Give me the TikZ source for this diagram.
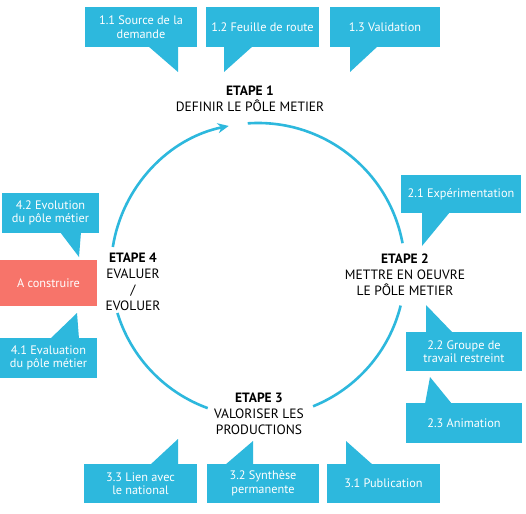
\documentclass[tikz,border=0pt]{standalone}
\usepackage{fontspec}
\setmainfont{PT Sans}
\usetikzlibrary{arrows.meta}
\definecolor{cblue}{HTML}{2DB8DD}
\definecolor{salmon}{HTML}{F7746A}
\begin{document}
\begin{tikzpicture}[x=1pt,y=-1pt,
  box/.style={fill=cblue,text=white,align=center,inner sep=0pt,font=\fontsize{12.3}{13.5}\selectfont},
  tail/.style={fill=cblue},
  etape/.style={align=center,text=black,font=\fontsize{13.5}{16}\selectfont},
  cyc/.style={draw=cblue,line width=2.6pt}]
\useasboundingbox[fill=white] (0,0) rectangle (526,513);
% top boxes
\node[box,minimum width=112pt,minimum height=40pt] (b11) at (141,27) {1.1 Source de la\\demande};
\fill[tail] (148,46) -- (178,46) -- (178,72) -- cycle;
\node[box,minimum width=113pt,minimum height=40pt] (b12) at (262.5,27) {1.2 Feuille de route};
\fill[tail] (224,46) -- (253,46) -- (224,72) -- cycle;
\node[box,minimum width=110pt,minimum height=40pt] (b13) at (385,27) {1.3 Validation};
\fill[tail] (350,46) -- (378,46) -- (350,72) -- cycle;
% right boxes
\node[box,minimum width=120pt,minimum height=38pt] (b21) at (461,194) {2.1 Expérimentation};
\fill[tail] (422,212) -- (450,212) -- (422,246) -- cycle;
\node[box,minimum width=116pt,minimum height=39pt] (b22) at (464,351.5) {2.2 Groupe de\\travail restreint};
\fill[tail] (426,333) -- (453,333) -- (426,305) -- cycle;
\node[box,minimum width=116pt,minimum height=40pt] (b23) at (464,423) {2.3 Animation};
\fill[tail] (425,404) -- (452,404) -- (430,377) -- cycle;
% bottom boxes
\node[box,minimum width=113pt,minimum height=39pt] (b33) at (140.5,483.5) {3.3 Lien avec\\le national};
\fill[tail] (150,465) -- (178,465) -- (178,439) -- cycle;
\node[box,minimum width=112pt,minimum height=39pt] (b32) at (263,483.5) {3.2 Synthèse\\permanente};
\fill[tail] (225,465) -- (253,465) -- (253,441) -- cycle;
\node[box,minimum width=113pt,minimum height=39pt] (b31) at (383.5,483.5) {3.1 Publication};
\fill[tail] (346,465) -- (373,465) -- (346,441) -- cycle;
% left boxes
\node[box,minimum width=97pt,minimum height=40pt] (b42) at (50.5,213) {4.2 Evolution\\du pôle métier};
\fill[tail] (60,232) -- (81,232) -- (79,257) -- cycle;
\node[fill=salmon,text=white,inner sep=0pt,minimum width=97pt,minimum height=46pt,font=\fontsize{12.3}{13.5}\selectfont] (ac) at (48.5,283) {A construire};
\node[box,minimum width=97pt,minimum height=40pt] (b41) at (48.5,358) {4.1 Evaluation\\du pôle métier};
\fill[tail] (50,339) -- (79,339) -- (77,313) -- cycle;
% cycle
\coordinate (c) at (258,270);
\draw[cyc] (c) ++(94:147pt) arc[start angle=94,end angle=10.5,radius=147pt];
\draw[cyc] (c) ++(-14:147pt) arc[start angle=-14,end angle=-68,radius=147pt];
\draw[cyc] (c) ++(-110:147pt) arc[start angle=-110,end angle=-163,radius=147pt];
\draw[cyc,-{Stealth[length=11pt,width=10pt]}] (c) ++(171:147pt) arc[start angle=171,end angle=101.5,radius=147pt];
% stage labels
\node[etape] (e1) at (250,99) {\textbf{ETAPE 1}\\DEFINIR LE PÔLE METIER};
\node[etape] (e2) at (405,275) {\textbf{ETAPE 2}\\METTRE EN OEUVRE\\LE PÔLE METIER};
\node[etape] (e3) at (259,414) {\textbf{ETAPE 3}\\VALORISER LES\\PRODUCTIONS};
\node[etape] (e4) at (133,282) {\textbf{ETAPE 4}\\EVALUER\\/\\EVOLUER};
\end{tikzpicture}
\end{document}
